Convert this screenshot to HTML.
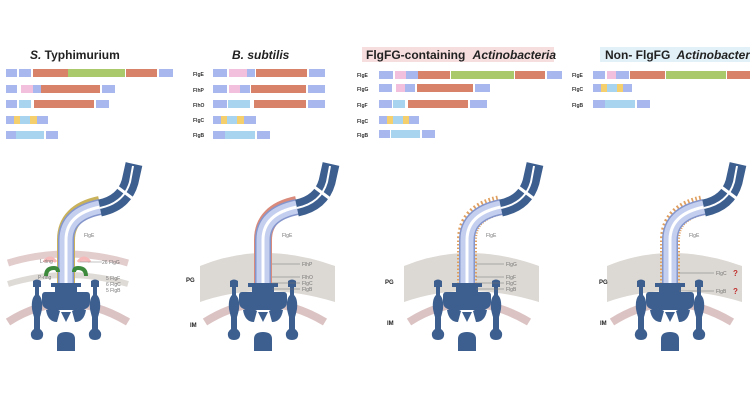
<!DOCTYPE html>
<html><head><meta charset="utf-8"><style>
html,body{margin:0;padding:0;background:#fff}
svg{display:block}
text{font-family:"Liberation Sans",sans-serif}
.t{font-size:12px;font-weight:bold;fill:#222}
.l{font-size:5px;fill:#333;font-weight:bold}
.s{font-size:5px;fill:#777}
.m{font-size:6px;font-weight:bold;fill:#222}
</style></head><body>
<svg width="750" height="400" viewBox="0 0 750 400" xmlns="http://www.w3.org/2000/svg">
<defs>
<g id="motor" fill="#3d5f8f">
  <path d="M-9,351 v-12 q0,-7 9,-7 q9,0 9,7 v12 z"/>
  <path d="M-20,310 q8,-3 14,1 l-3,11 q-9,0 -11,-12z"/>
  <path d="M20,310 q-8,-3 -14,1 l3,11 q9,0 11,-12z"/>
  <path d="M-5,312 h10 l-5,10z"/>
  <path d="M-21,292 h42 q3,0 3,4 v6 q0,7 -9,8 h-30 q-9,-1 -9,-8 v-6 q0,-4 3,-4z"/>
  <path d="M-15,283 h30 v4 h-4 v6 h-22 v-6 h-4z"/>
  <path d="M-33,281 q4,-3 8,0 v6 h-2 v8 q4,4 3,14 q-1,5 -2,8 v12 q4,3 3,7 q-1,4 -6,4 q-5,0 -6,-4 q-1,-4 3,-7 v-12 q-1,-3 -2,-8 q-1,-10 3,-14 v-8 h-2z"/>
  <path d="M25,281 q4,-3 8,0 v6 h-2 v8 q4,4 3,14 q-1,5 -2,8 v12 q4,3 3,7 q-1,4 -6,4 q-5,0 -6,-4 q-1,-4 3,-7 v-12 q-1,-3 -2,-8 q-1,-10 3,-14 v-8 h-2z"/>
</g>
<g id="tube">
  <path d="M0,298 L0,240 Q0,214 34,207" fill="none" stroke="#8596cc" stroke-width="16"/>
  <path d="M0,298 L0,240 Q0,214 34,207" fill="none" stroke="#c4cff0" stroke-width="13"/>
  <path d="M0,298 L0,240 Q0,214 34,207" fill="none" stroke="#fff" stroke-width="3"/>
  <path d="M34,208 Q58,203 64,182 L68,164" fill="none" stroke="#3d5f8f" stroke-width="17"/>
  <path d="M34,208 Q58,203 64,182 L67,166" fill="none" stroke="#fff" stroke-width="2"/>
  <line x1="50" y1="186" x2="66" y2="198" stroke="#fff" stroke-width="3"/>
</g>
<path id="im" d="M-58,322 Q0,285 62,322" fill="none" stroke="#dcc3c3" stroke-width="8"/>
</defs>

<text x="30" y="59" class="t"><tspan font-style="italic">S.</tspan> Typhimurium</text>
<text x="232" y="59" class="t" font-style="italic">B. subtilis</text>
<rect x="362" y="47" width="192" height="15" fill="#f7dede"/>
<text x="366" y="59" class="t">FlgFG-containing <tspan font-style="italic" dx="4">Actinobacteria</tspan></text>
<rect x="600" y="47" width="150" height="15" fill="#e2f1f8"/>
<text x="605" y="59" class="t">Non- FlgFG <tspan font-style="italic" dx="3">Actinobacteria</tspan></text>

<g>
<rect x="6" y="69" width="11" height="8" fill="#a8b8ee"/><rect x="19" y="69" width="12" height="8" fill="#a8b8ee"/>
<rect x="33" y="69" width="35" height="8" fill="#d9826a"/><rect x="68" y="69" width="57" height="8" fill="#a9c96a"/>
<rect x="126" y="69" width="31" height="8" fill="#d9826a"/><rect x="159" y="69" width="14" height="8" fill="#a8b8ee"/>
<rect x="6" y="85" width="11" height="8" fill="#a8b8ee"/><rect x="21" y="85" width="12" height="8" fill="#f2c0dc"/>
<rect x="33" y="85" width="8" height="8" fill="#a8b8ee"/><rect x="41" y="85" width="59" height="8" fill="#d9826a"/><rect x="102" y="85" width="13" height="8" fill="#a8b8ee"/>
<rect x="6" y="100" width="11" height="8" fill="#a8b8ee"/><rect x="19" y="100" width="12" height="8" fill="#a9d4f0"/>
<rect x="34" y="100" width="60" height="8" fill="#d9826a"/><rect x="96" y="100" width="13" height="8" fill="#a8b8ee"/>
<rect x="6" y="116" width="8" height="8" fill="#a8b8ee"/><rect x="14" y="116" width="6" height="8" fill="#f4cf6b"/>
<rect x="20" y="116" width="10" height="8" fill="#a9d4f0"/><rect x="30" y="116" width="7" height="8" fill="#f4cf6b"/><rect x="37" y="116" width="11" height="8" fill="#a8b8ee"/>
<rect x="6" y="131" width="10" height="8" fill="#a8b8ee"/><rect x="16" y="131" width="28" height="8" fill="#a9d4f0"/><rect x="46" y="131" width="12" height="8" fill="#a8b8ee"/>
</g>
<g class="l">
<text x="193" y="76">FlgE</text><text x="193" y="92">FlhP</text><text x="193" y="107">FlhO</text><text x="193" y="122">FlgC</text><text x="193" y="137">FlgB</text>
</g>
<rect x="213" y="69" width="14" height="8" fill="#a8b8ee"/><rect x="229" y="69" width="18" height="8" fill="#f2c0dc"/><rect x="247" y="69" width="8" height="8" fill="#a8b8ee"/>
<rect x="256" y="69" width="51" height="8" fill="#d9826a"/><rect x="309" y="69" width="16" height="8" fill="#a8b8ee"/>
<rect x="213" y="85" width="14" height="8" fill="#a8b8ee"/><rect x="229" y="85" width="11" height="8" fill="#f2c0dc"/><rect x="240" y="85" width="10" height="8" fill="#a8b8ee"/>
<rect x="251" y="85" width="55" height="8" fill="#d9826a"/><rect x="308" y="85" width="17" height="8" fill="#a8b8ee"/>
<rect x="213" y="100" width="14" height="8" fill="#a8b8ee"/><rect x="228" y="100" width="22" height="8" fill="#a9d4f0"/>
<rect x="254" y="100" width="52" height="8" fill="#d9826a"/><rect x="308" y="100" width="17" height="8" fill="#a8b8ee"/>
<rect x="213" y="116" width="8" height="8" fill="#a8b8ee"/><rect x="221" y="116" width="6" height="8" fill="#f4cf6b"/><rect x="227" y="116" width="10" height="8" fill="#a9d4f0"/><rect x="237" y="116" width="7" height="8" fill="#f4cf6b"/><rect x="244" y="116" width="12" height="8" fill="#a8b8ee"/>
<rect x="213" y="131" width="12" height="8" fill="#a8b8ee"/><rect x="225" y="131" width="30" height="8" fill="#a9d4f0"/><rect x="257" y="131" width="13" height="8" fill="#a8b8ee"/>
<g class="l">
<text x="357" y="77">FlgE</text><text x="357" y="91">FlgG</text><text x="357" y="107">FlgF</text><text x="357" y="123">FlgC</text><text x="357" y="137">FlgB</text>
</g>
<rect x="379" y="71" width="14" height="8" fill="#a8b8ee"/><rect x="395" y="71" width="11" height="8" fill="#f2c0dc"/><rect x="406" y="71" width="12" height="8" fill="#a8b8ee"/>
<rect x="418" y="71" width="32" height="8" fill="#d9826a"/><rect x="451" y="71" width="63" height="8" fill="#a9c96a"/><rect x="515" y="71" width="30" height="8" fill="#d9826a"/><rect x="547" y="71" width="15" height="8" fill="#a8b8ee"/>
<rect x="379" y="84" width="13" height="8" fill="#a8b8ee"/><rect x="396" y="84" width="9" height="8" fill="#f2c0dc"/><rect x="405" y="84" width="10" height="8" fill="#a8b8ee"/>
<rect x="417" y="84" width="56" height="8" fill="#d9826a"/><rect x="475" y="84" width="15" height="8" fill="#a8b8ee"/>
<rect x="379" y="100" width="13" height="8" fill="#a8b8ee"/><rect x="393" y="100" width="12" height="8" fill="#a9d4f0"/>
<rect x="408" y="100" width="60" height="8" fill="#d9826a"/><rect x="470" y="100" width="17" height="8" fill="#a8b8ee"/>
<rect x="379" y="116" width="8" height="8" fill="#a8b8ee"/><rect x="387" y="116" width="6" height="8" fill="#f4cf6b"/><rect x="393" y="116" width="10" height="8" fill="#a9d4f0"/><rect x="403" y="116" width="6" height="8" fill="#f4cf6b"/><rect x="409" y="116" width="10" height="8" fill="#a8b8ee"/>
<rect x="379" y="130" width="11" height="8" fill="#a8b8ee"/><rect x="391" y="130" width="29" height="8" fill="#a9d4f0"/><rect x="422" y="130" width="13" height="8" fill="#a8b8ee"/>
<g class="l">
<text x="572" y="77">FlgE</text><text x="572" y="91">FlgC</text><text x="572" y="107">FlgB</text>
</g>
<rect x="593" y="71" width="12" height="8" fill="#a8b8ee"/><rect x="607" y="71" width="9" height="8" fill="#f2c0dc"/><rect x="616" y="71" width="13" height="8" fill="#a8b8ee"/>
<rect x="630" y="71" width="35" height="8" fill="#d9826a"/><rect x="666" y="71" width="60" height="8" fill="#a9c96a"/><rect x="727" y="71" width="23" height="8" fill="#d9826a"/>
<rect x="593" y="84" width="8" height="8" fill="#a8b8ee"/><rect x="601" y="84" width="6" height="8" fill="#f4cf6b"/><rect x="607" y="84" width="10" height="8" fill="#a9d4f0"/><rect x="617" y="84" width="6" height="8" fill="#f4cf6b"/><rect x="623" y="84" width="9" height="8" fill="#a8b8ee"/>
<rect x="593" y="100" width="12" height="8" fill="#a8b8ee"/><rect x="605" y="100" width="30" height="8" fill="#a9d4f0"/><rect x="637" y="100" width="13" height="8" fill="#a8b8ee"/>

<!-- panel 1 -->
<path d="M8,263 Q66,245 128,263" fill="none" stroke="#e2cccc" stroke-width="7"/>
<path d="M8,284 Q66,266 128,284" fill="none" stroke="#dedad6" stroke-width="6"/>
<use href="#im" x="66"/>
<path d="M66,298 L66,240 Q66,212 100,205" fill="none" stroke="#c9b25a" stroke-width="18"/>
<g transform="translate(66,0)"><use href="#tube"/><use href="#motor"/></g>
<path d="M44,262 q6,-8 12,0 M78,262 q6,-8 12,0" fill="#f6c0c0" stroke="#f6b8b8" stroke-width="3"/>
<path d="M46,276 q0,-8 8,-8 q4,0 4,4 M86,276 q0,-8 -8,-8 q-4,0 -4,4" fill="none" stroke="#3d8a3d" stroke-width="4"/>
<text x="40" y="263" class="s">L-ring</text><text x="38" y="279" class="s">P-ring</text>
<line x1="80" y1="262" x2="102" y2="262" stroke="#888" stroke-width="0.6"/>
<text x="102" y="264" class="s">26 FlgG</text><text x="106" y="280" class="s">5 FlgF</text><text x="106" y="286" class="s">6 FlgC</text><text x="106" y="292" class="s">5 FlgB</text>
<text x="84" y="237" class="s">FlgE</text>

<!-- panel 2 -->
<path d="M200,266 Q263,240 335,266 L335,302 Q263,280 200,302 Z" fill="#dcd8d3"/>
<use href="#im" x="263"/>
<path d="M263,298 L263,240 Q263,212 297,205" fill="none" stroke="#d98a7a" stroke-width="18"/>
<g transform="translate(263,0)"><use href="#tube"/><use href="#motor"/></g>
<text x="282" y="237" class="s">FlgE</text>
<g stroke="#777" stroke-width="0.6"><line x1="272" y1="264" x2="300" y2="264"/><line x1="272" y1="277" x2="300" y2="277"/><line x1="272" y1="283" x2="300" y2="283"/><line x1="272" y1="289" x2="300" y2="289"/></g>
<text x="302" y="266" class="s">FlhP</text><text x="302" y="279" class="s">FlhO</text><text x="302" y="285" class="s">FlgC</text><text x="302" y="291" class="s">FlgB</text>
<text x="186" y="282" class="m">PG</text><text x="190" y="327" class="m">IM</text>

<!-- panel 3 -->
<path d="M404,266 Q467,240 539,266 L539,302 Q467,280 404,302 Z" fill="#dcd8d3"/>
<use href="#im" x="467"/>
<path d="M467,298 L467,240 Q467,212 501,205" fill="none" stroke="#e0a060" stroke-width="20" stroke-dasharray="1.5 2"/>
<g transform="translate(467,0)"><use href="#tube"/><use href="#motor"/></g>
<text x="486" y="237" class="s">FlgE</text>
<g stroke="#777" stroke-width="0.6"><line x1="476" y1="264" x2="504" y2="264"/><line x1="476" y1="277" x2="504" y2="277"/><line x1="476" y1="283" x2="504" y2="283"/><line x1="476" y1="289" x2="504" y2="289"/></g>
<text x="506" y="266" class="s">FlgG</text><text x="506" y="279" class="s">FlgF</text><text x="506" y="285" class="s">FlgC</text><text x="506" y="291" class="s">FlgB</text>
<text x="385" y="284" class="m">PG</text><text x="387" y="325" class="m">IM</text>

<!-- panel 4 -->
<path d="M607,266 Q670,240 742,266 L742,302 Q670,280 607,302 Z" fill="#dcd8d3"/>
<use href="#im" x="670"/>
<path d="M670,298 L670,240 Q670,212 704,205" fill="none" stroke="#e0a060" stroke-width="20" stroke-dasharray="1.5 2"/>
<g transform="translate(670,0)"><use href="#tube"/><use href="#motor"/></g>
<text x="689" y="237" class="s">FlgE</text>
<g stroke="#777" stroke-width="0.6"><line x1="679" y1="273" x2="714" y2="273"/><line x1="679" y1="291" x2="714" y2="291"/></g>
<text x="716" y="275" class="s">FlgC</text><text x="733" y="276" font-size="8" font-weight="bold" fill="#c03030">?</text>
<text x="716" y="293" class="s">FlgB</text><text x="733" y="294" font-size="8" font-weight="bold" fill="#c03030">?</text>
<text x="599" y="284" class="m">PG</text><text x="600" y="325" class="m">IM</text>
</svg>
</body></html>
